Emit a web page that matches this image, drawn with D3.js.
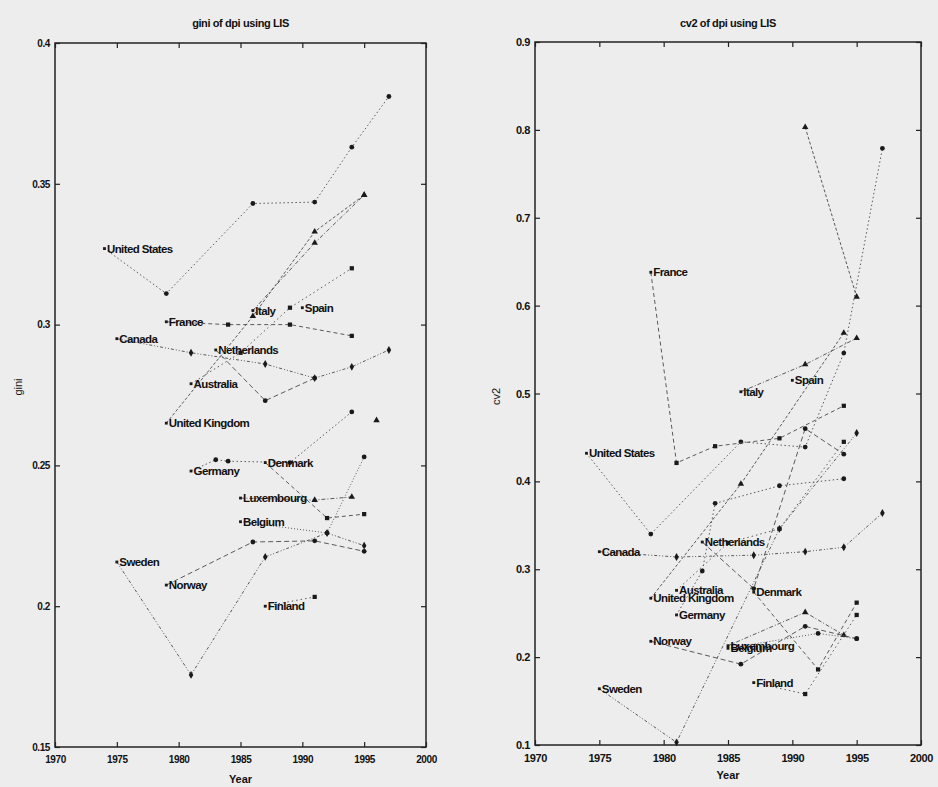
<!DOCTYPE html>
<html><head><meta charset="utf-8">
<script src="https://cdn.jsdelivr.net/npm/d3@7"></script>
<style>
html,body{margin:0;padding:0;background:#ededed;}
svg{display:block;}
text{font-family:"Liberation Sans",Arial,sans-serif;fill:#111;}
</style></head><body>
<svg id="chart" width="938" height="787"></svg>
<script>
// ---------- DATA ----------
const countryNames = ["United States","France","Italy","Spain","Canada","Netherlands","Australia",
  "United Kingdom","Germany","Denmark","Luxembourg","Belgium","Sweden","Norway","Finland",""];

const giniYears = [
  [1974,1979,1986,1991,1994,1997],
  [1979,1984,1989,1994],
  [1986,1991,1995],
  [1990],
  [1975,1981,1987,1991,1994,1997],
  [1983,1987,1991],
  [1981,1985,1989,1994],
  [1979,1986,1991,1995],
  [1981,1983,1984,1989,1994],
  [1987,1992,1995],
  [1985,1991,1994],
  [1985,1992,1995],
  [1975,1981,1987,1992,1995],
  [1979,1986,1991,1995],
  [1987,1991],
  [1996]
];
const giniValues = [
  [0.327,0.311,0.343,0.3435,0.363,0.381],
  [0.301,0.300,0.300,0.296],
  [0.305,0.329,0.346],
  [0.306],
  [0.295,0.290,0.286,0.281,0.285,0.291],
  [0.291,0.273,0.281],
  [0.279,0.290,0.306,0.320],
  [0.265,0.303,0.333,0.346],
  [0.248,0.252,0.2515,0.251,0.269],
  [0.251,0.2313,0.2327],
  [0.2384,0.2377,0.2388],
  [0.230,0.226,0.253],
  [0.2157,0.1756,0.2175,0.226,0.2215],
  [0.2075,0.2228,0.2232,0.2195],
  [0.200,0.2033],
  [0.266]
];

const cv2Years = [
  [1974,1979,1986,1991,1994,1997],
  [1979,1981,1984,1989,1994],
  [1986,1991,1995],
  [1990],
  [1975,1981,1987,1991,1994,1997],
  [1983,1987,1991,1994],
  [1981,1985,1989,1994],
  [1979,1986,1994],
  [1981,1983,1984,1989,1994],
  [1987,1992,1995],
  [1985,1991,1994],
  [1985,1992,1995],
  [1975,1981,1989,1995],
  [1979,1986,1991,1995],
  [1987,1991,1995],
  [1991,1995]
];
const cv2Values = [
  [0.432,0.340,0.445,0.439,0.546,0.779],
  [0.638,0.421,0.440,0.449,0.486],
  [0.502,0.533,0.563],
  [0.515],
  [0.320,0.314,0.316,0.320,0.325,0.364],
  [0.331,0.278,0.460,0.431],
  [0.276,0.330,0.346,0.445],
  [0.267,0.397,0.569],
  [0.248,0.298,0.375,0.395,0.403],
  [0.274,0.186,0.262],
  [0.213,0.251,0.225],
  [0.210,0.227,0.221],
  [0.164,0.103,0.346,0.455],
  [0.218,0.192,0.235,0.221],
  [0.171,0.158,0.248],
  [0.803,0.610]
];

const yearTicks = [1970,1975,1980,1985,1990,1995,2000];
const giniTicks = [0.15,0.2,0.25,0.3,0.35,0.4];
const giniTickLabels = ["0.15","0.2","0.25","0.3","0.35","0.4"];
const cv2Ticks = [0.1,0.2,0.3,0.4,0.5,0.6,0.7,0.8,0.9];
const cv2TickLabels = ["0.1","0.2","0.3","0.4","0.5","0.6","0.7","0.8","0.9"];

// ---------- STYLES ----------
const dashes = ["1.5,2.5","4,3","4,2,1,2","1,2","3,2,1,2,1,2","5,3","1.5,3","3,2"];
const symbolTypes = [d3.symbolCircle,d3.symbolSquare,d3.symbolTriangle,d3.symbolCircle,d3.symbolDiamond,d3.symbolCircle,d3.symbolSquare,d3.symbolTriangle];

const svg = d3.select("#chart");

function panel(opts){
  const x = d3.scaleLinear().domain([1970,2000]).range([opts.x0,opts.x1]);
  const y = d3.scaleLinear().domain(opts.domain).range([opts.y1,opts.y0]);
  const g = svg.append("g");

  g.append("rect").attr("x",opts.x0).attr("y",opts.y0)
    .attr("width",opts.x1-opts.x0).attr("height",opts.y1-opts.y0)
    .attr("fill","none").attr("stroke","#222").attr("stroke-width",1.5);

  const ax = [
    d3.axisBottom(x).tickValues(yearTicks).tickSize(-5).tickFormat(d3.format("d")),
    d3.axisTop(x).tickValues(yearTicks).tickSize(-5).tickFormat(""),
    d3.axisLeft(y).tickValues(opts.ticks).tickSize(-5).tickFormat((d,i)=>opts.tickLabels[i]),
    d3.axisRight(y).tickValues(opts.ticks).tickSize(-5).tickFormat("")
  ];
  const tr = [`translate(0,${opts.y1})`,`translate(0,${opts.y0})`,`translate(${opts.x0},0)`,`translate(${opts.x1},0)`];
  ax.forEach((a,i)=>{
    const ag = g.append("g").attr("transform",tr[i]).call(a);
    ag.select(".domain").remove();
    ag.selectAll("line").attr("stroke","#222").attr("stroke-width",1.2);
    ag.selectAll("text").style("font-family",'"Liberation Sans",Arial,sans-serif')
      .style("font-size",opts.tickFont+"px").style("font-weight",opts.tickWeight)
      .style("letter-spacing","-0.4px").attr("fill","#111");
    if(i===0) ag.selectAll("text").attr("y",7).attr("dy","0.9em");
    if(i===2) ag.selectAll("text").attr("x",-5);
  });

  g.append("text").attr("x",(opts.x0+opts.x1)/2).attr("y",opts.titleY).attr("text-anchor","middle")
    .style("font-size","11px").style("letter-spacing","-0.4px").style("font-weight","bold").text(opts.title);
  g.append("text").attr("x",(opts.x0+opts.x1)/2).attr("y",opts.xlabY).attr("text-anchor","middle")
    .style("font-size","11px").style("font-weight","bold").text("Year");
  g.append("text").attr("transform",`translate(${opts.ylabX},${(opts.y0+opts.y1)/2+(opts.ylabDY||0)}) rotate(-90)`)
    .attr("text-anchor","middle").style("font-size","11px").text(opts.ylab);

  const line = d3.line().x(d=>x(d[0])).y(d=>y(d[1]));

  countryNames.forEach((name,i)=>{
    const pts = opts.years[i].map((yr,j)=>[yr,opts.values[i][j]]);
    if(pts.length>1){
      g.append("path").datum(pts).attr("d",line).attr("fill","none")
        .attr("stroke","#5a5a5a").attr("stroke-width",1)
        .attr("stroke-dasharray",dashes[i%dashes.length]);
    }
    g.selectAll(null).data(pts.slice(name?1:0)).enter().append("path")
      .attr("transform",d=>`translate(${x(d[0])},${y(d[1])})`)
      .attr("d",d3.symbol().type(symbolTypes[i%symbolTypes.length]).size(18))
      .attr("fill","#1a1a1a");
    if(name){
      const p = pts[0];
      g.append("path").attr("transform",`translate(${x(p[0])},${y(p[1])})`)
        .attr("d",d3.symbol().type(d3.symbolSquare).size(8)).attr("fill","#1a1a1a");
      g.append("text").attr("x",x(p[0])+2.5).attr("y",y(p[1])).attr("dy","0.35em")
        .style("font-size","11.5px").style("font-weight","bold").style("letter-spacing","-0.6px")
        .text(name);
    }
  });
}

panel({x0:55,x1:426,y0:43,y1:747,domain:[0.15,0.4],ticks:giniTicks,tickLabels:giniTickLabels,
  years:giniYears,values:giniValues,title:"gini of dpi using LIS",titleY:27,xlabY:783,ylab:"gini",ylabX:22,ylabDY:-8,
  tickFont:10,tickWeight:"bold"});
panel({x0:535,x1:921,y0:42,y1:745,domain:[0.1,0.9],ticks:cv2Ticks,tickLabels:cv2TickLabels,
  years:cv2Years,values:cv2Values,title:"cv2 of dpi using LIS",titleY:27,xlabY:779,ylab:"cv2",ylabX:500,ylabDY:3,
  tickFont:11,tickWeight:"bold"});
</script>
</body></html>
